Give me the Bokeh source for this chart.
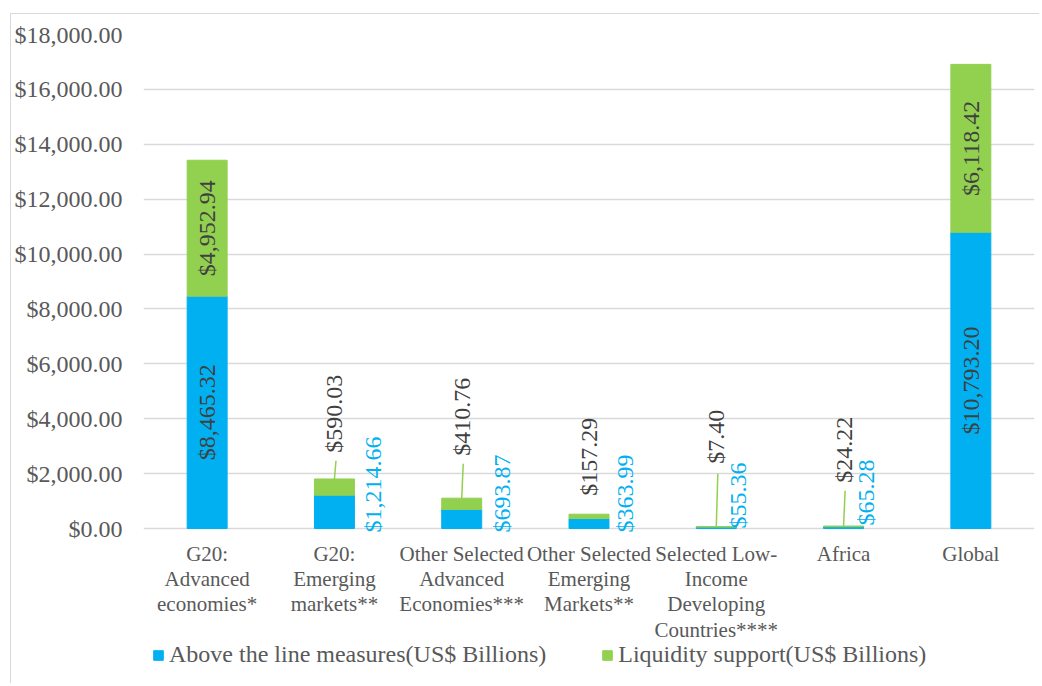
import numpy as np
from bokeh.plotting import figure
from bokeh.models import (Range1d, FixedTicker, NumeralTickFormatter, Legend, LegendItem,
                          ColumnDataSource)
from bokeh.core.properties import value
from bokeh.embed import file_html
from bokeh.resources import INLINE

# ---- data ----
categories = ["G20:\nAdvanced\neconomies*", "G20:\nEmerging\nmarkets**",
              "Other Selected\nAdvanced\nEconomies***", "Other Selected\nEmerging\nMarkets**",
              "Selected Low-\nIncome\nDeveloping\nCountries****", "Africa", "Global"]
above_line = [8465.32, 1214.66, 693.87, 363.99, 55.36, 65.28, 10793.20]
liquidity = [4952.94, 590.03, 410.76, 157.29, 7.40, 24.22, 6118.42]
series_names = ["Above the line measures(US$ Billions)", "Liquidity support(US$ Billions)"]
y_ticks = list(range(0, 18001, 2000))

# ---- layout of the manually placed labels (Excel style) ----
inside = [True, False, False, False, False, False, True]
blue_dx = [0, 0.306, 0.314, 0.283, 0.169, 0.176, 0]          # category units
blue_y0 = [0, -146, -146, -146, 0, 109, 0]                   # data units
green_y0 = [0, 2758, 2649, 1192, 2358, 1665, 0]              # data units
leader_top = [None, 2467, 2358, None, 1993, 1374, None]

FONT = "Liberation Serif"
BLUE = "#00B0F0"
GREEN = "#92D050"
GRID = "#d9d9d9"
TXT = "#595959"
LBL = "#404040"

OX, OY = 11, 14                                  # where the figure's canvas starts (after its border)
W, H = 1040 - OX, 684 - OY
TOP, ZERO, LEFT, RIGHT = 34, 528, 142, 1034     # page pixel positions of the value area
DPP = 18000 / (ZERO - TOP)                      # data units per pixel
y_bottom = -(684 - ZERO) * DPP

x = list(range(len(categories)))
totals = [a + b for a, b in zip(above_line, liquidity)]

p = figure(width=W, height=H, output_backend="svg", toolbar_location=None,
           x_range=Range1d(-0.5, 6.5), y_range=Range1d(y_bottom, 18000),
           min_border_left=LEFT - OX, min_border_right=1040 - RIGHT, min_border_top=TOP - OY,
           min_border_bottom=0)
p.styles = {"margin-left": "10px", "margin-top": "13px",
            "border-left": "1px solid #d9d9d9", "border-top": "1px solid #d9d9d9"}
p.outline_line_color = None
p.xaxis.visible = False

bw = 0.314
src = ColumnDataSource(dict(x=x, a=above_line, t=totals))
r1 = p.vbar(x="x", top="a", bottom=0, width=bw, color=BLUE, source=src)
r2 = p.vbar(x="x", top="t", bottom="a", width=bw, color=GREEN, source=src)

# y axis
p.yaxis.ticker = FixedTicker(ticks=y_ticks)
p.yaxis.formatter = NumeralTickFormatter(format="$0,0.00")
p.yaxis.axis_line_color = None
p.yaxis.major_tick_line_color = None
p.yaxis.minor_tick_line_color = None
p.yaxis.major_label_standoff = 15
p.yaxis.major_label_text_font = FONT
p.yaxis.major_label_text_font_size = "24px"
p.yaxis.major_label_text_color = TXT

p.xgrid.grid_line_color = None
p.ygrid.grid_line_color = GRID
p.ygrid.grid_line_width = 1.5
p.ygrid.ticker = FixedTicker(ticks=y_ticks)

# category labels (drawn under the zero line)
p.text(x=x, y=[-13 * DPP] * len(x), text=categories,
       text_align="center", text_baseline="top", text_line_height=1.06,
       text_font=value(FONT), text_font_size="21px", text_color=TXT)

def fmt(v):
    return f"${v:,.2f}"

# labels inside big bars
in_x = [i for i in x if inside[i]]
p.text(x=in_x, y=[above_line[i] / 2 for i in in_x], text=[fmt(above_line[i]) for i in in_x],
       angle=np.pi / 2, text_align="center", text_baseline="middle",
       text_font=value(FONT), text_font_size="24px", text_color=LBL)
p.text(x=in_x, y=[above_line[i] + liquidity[i] / 2 for i in in_x], text=[fmt(liquidity[i]) for i in in_x],
       angle=np.pi / 2, text_align="center", text_baseline="middle",
       text_font=value(FONT), text_font_size="24px", text_color=LBL)

# labels for small bars
out_x = [i for i in x if not inside[i]]
p.text(x=[i + blue_dx[i] for i in out_x], y=[blue_y0[i] for i in out_x],
       text=[fmt(above_line[i]) for i in out_x],
       angle=np.pi / 2, text_align="left", text_baseline="middle",
       text_font=value(FONT), text_font_size="24px", text_color=BLUE)
p.text(x=out_x, y=[green_y0[i] for i in out_x], text=[fmt(liquidity[i]) for i in out_x],
       angle=np.pi / 2, text_align="left", text_baseline="middle",
       text_font=value(FONT), text_font_size="24px", text_color=LBL)

lx = [i for i in x if leader_top[i] is not None]
p.segment(x0=lx, y0=[totals[i] for i in lx], x1=[i + 0.012 for i in lx], y1=[leader_top[i] for i in lx],
          line_color=GREEN, line_width=1.5)

legend = Legend(items=[LegendItem(label=series_names[0], renderers=[r1]),
                       LegendItem(label=series_names[1], renderers=[r2])],
                orientation="horizontal", location=(9, 16),
                glyph_width=12, glyph_height=12, label_standoff=5, spacing=55,
                padding=0, margin=0, border_line_color=None, background_fill_alpha=0,
                label_text_font=FONT, label_text_font_size="24px", label_text_color=TXT)
p.add_layout(legend, "center")

open("out.html", "w").write(file_html(p, INLINE))
